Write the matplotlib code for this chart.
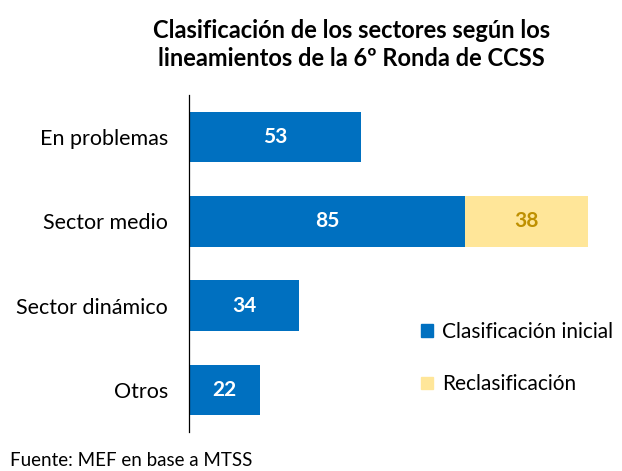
import matplotlib.pyplot as plt
from matplotlib.patches import Patch

plt.rcParams['font.family'] = ['Lato', 'DejaVu Sans']

categorias = ['En problemas', 'Sector medio', 'Sector dinámico', 'Otros']
inicial = [53, 85, 34, 22]
reclasif = [0, 38, 0, 0]

azul = '#0070C0'
amarillo = '#FFE699'
dorado = '#BF9000'

fig = plt.figure(figsize=(6.22, 4.71), dpi=100)
ax = fig.add_axes([0.3039, 0.0828, 0.678, 0.7155])

y = list(range(len(categorias)))
ax.barh(y, inicial, height=0.6, color=azul)
ax.barh(y, reclasif, left=inicial, height=0.6, color=amarillo)

for i in y:
    ax.text(inicial[i] / 2, i, str(inicial[i]), ha='center', va='center',
            color='white', fontsize=15, fontweight='bold')
    if reclasif[i] > 0:
        ax.text(inicial[i] + reclasif[i] / 2, i, str(reclasif[i]), ha='center',
                va='center', color=dorado, fontsize=15, fontweight='bold')

ax.set_ylim(3.5, -0.5)
ax.set_xlim(0, 130)
ax.set_yticks(y)
ax.set_yticklabels(categorias, fontsize=15.5)
ax.tick_params(axis='y', length=0, pad=15)
ax.set_xticks([])
for s in ['top', 'right', 'bottom']:
    ax.spines[s].set_visible(False)
ax.spines['left'].set_color('black')
ax.spines['left'].set_linewidth(0.9)

handles = [Patch(color=azul, label='Clasificación inicial'),
           Patch(color=amarillo, label='Reclasificación')]
fig.legend(handles=handles, loc='upper left', bbox_to_anchor=(0.647, 0.356),
           frameon=False, fontsize=15, handlelength=0.55, handleheight=0.55,
           handletextpad=0.45, labelspacing=1.55)

fig.text(0.565, 0.905, 'Clasificación de los sectores según los\nlineamientos de la 6º Ronda de CCSS',
         ha='center', va='center', fontsize=17, fontweight='bold', linespacing=1.25)
fig.text(0.016, 0.004, 'Fuente: MEF en base a MTSS', ha='left', va='bottom', fontsize=13.5)

fig.savefig('out.png', dpi=100)
